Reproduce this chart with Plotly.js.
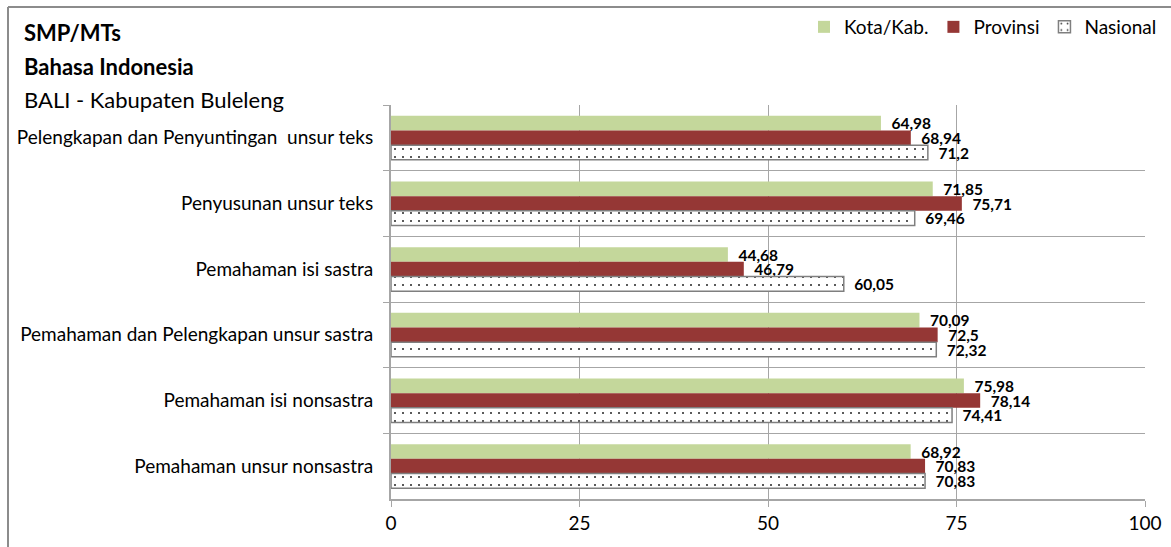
<!DOCTYPE html>
<html>
<head>
<meta charset="utf-8">
<script src="https://cdn.plot.ly/plotly-3.0.1.min.js"></script>
<style>
html,body{margin:0;padding:0;background:#fff;}
#chart{width:1171px;height:547px;}
</style>
</head>
<body>
<div id="chart"></div>
<script>
// Categories listed top to bottom
const categories = [
  "Pelengkapan dan Penyuntingan  unsur teks",
  "Penyusunan unsur teks",
  "Pemahaman isi sastra",
  "Pemahaman dan Pelengkapan unsur sastra",
  "Pemahaman isi nonsastra",
  "Pemahaman unsur nonsastra"
];
const kotaKab  = [64.98, 71.85, 44.68, 70.09, 75.98, 68.92];
const provinsi = [68.94, 75.71, 46.79, 72.5, 78.14, 70.83];
const nasional = [71.2, 69.46, 60.05, 72.32, 74.41, 70.83];
const seriesNames = ["Kota/Kab.", "Provinsi", "Nasional"];
const xTicks = [0, 25, 50, 75, 100];
const titleLines = ["SMP/MTs", "Bahasa Indonesia", "BALI - Kabupaten Buleleng"];

const FONT = "Lato, 'Open Sans', sans-serif";
const W = 1171, H = 547;
const L = 391, R = 26, T = 105, B = 48;
const pw = W - L - R, ph = H - T - B;
const px = x => (x - L) / pw;
const py = y => (H - B - y) / ph;

const lbl = arr => arr.map(v => "\u00a0\u00a0" + String(v).replace(".", ","));

const common = {
  type: "bar", orientation: "h", y: categories,
  textposition: "outside", cliponaxis: false, constraintext: "none",
  textfont: {family: FONT, size: 15.5, color: "#000", weight: 700},
  hoverinfo: "x+name"
};

const traces = [
  Object.assign({}, common, {
    name: seriesNames[0], x: kotaKab, text: lbl(kotaKab),
    marker: {color: "#c4d79b", line: {width: 0}}
  }),
  Object.assign({}, common, {
    name: seriesNames[1], x: provinsi, text: lbl(provinsi),
    marker: {color: "#953735", line: {width: 0}}
  }),
  Object.assign({}, common, {
    name: seriesNames[2], x: nasional, text: lbl(nasional),
    marker: {color: "#ffffff", line: {color: "#7f7f7f", width: 1.5},
      pattern: {shape: ".", fgcolor: "#222222", bgcolor: "#ffffff", size: 8, solidity: 0.05}}
  })
];

const annotations = [
  {text: "<b>" + titleLines[0] + "</b>", x: px(22), y: py(33), size: 22},
  {text: "<b>" + titleLines[1] + "</b>", x: px(22), y: py(66), size: 22},
  {text: titleLines[2], x: px(22), y: py(100), size: 22}
].map(a => ({
  text: a.text, xref: "paper", yref: "paper", x: a.x, y: a.y,
  xanchor: "left", yanchor: "middle", showarrow: false,
  font: {family: FONT, size: a.size, color: "#000"}
}));

const layout = {
  width: W, height: H,
  margin: {l: L, r: R, t: T, b: B, pad: 0, autoexpand: false},
  paper_bgcolor: "#fff", plot_bgcolor: "#fff",
  barmode: "group", bargap: 0.33, bargroupgap: 0,
  separators: ",.",
  showlegend: true,
  legend: {orientation: "h", x: px(1162), xanchor: "right", y: py(27), yanchor: "middle",
    font: {family: FONT, size: 19, color: "#000"}, itemwidth: 30, tracegroupgap: 0,
    traceorder: "normal", bgcolor: "rgba(0,0,0,0)"},
  xaxis: {
    range: [0, 100], tickvals: xTicks, ticktext: xTicks.map(String),
    showgrid: true, gridcolor: "#a6a6a6", gridwidth: 1,
    zeroline: false, showline: true, linecolor: "#a6a6a6", linewidth: 2,
    ticks: "outside", ticklen: 6, tickcolor: "#a6a6a6",
    tickfont: {family: FONT, size: 19, color: "#000"}, fixedrange: true
  },
  yaxis: {
    type: "category", autorange: "reversed", tickson: "boundaries",
    showgrid: true, gridcolor: "#a6a6a6", gridwidth: 1,
    showline: true, linecolor: "#a6a6a6", linewidth: 2,
    ticks: "outside", ticklen: 6, tickcolor: "#a6a6a6", ticklabelstandoff: 12,
    tickfont: {family: FONT, size: 19, color: "#000"}, fixedrange: true
  },
  annotations: annotations,
  shapes: [
    {type: "line", xref: "paper", yref: "paper", x0: px(8), x1: px(8), y0: py(7), y1: py(560),
      line: {color: "#8c8c8c", width: 2}},
    {type: "line", xref: "paper", yref: "paper", x0: px(8), x1: px(1180), y0: py(7), y1: py(7),
      line: {color: "#8c8c8c", width: 2}}
  ]
};

Plotly.newPlot("chart", traces, layout, {displayModeBar: false, staticPlot: true});
</script>
</body>
</html>
